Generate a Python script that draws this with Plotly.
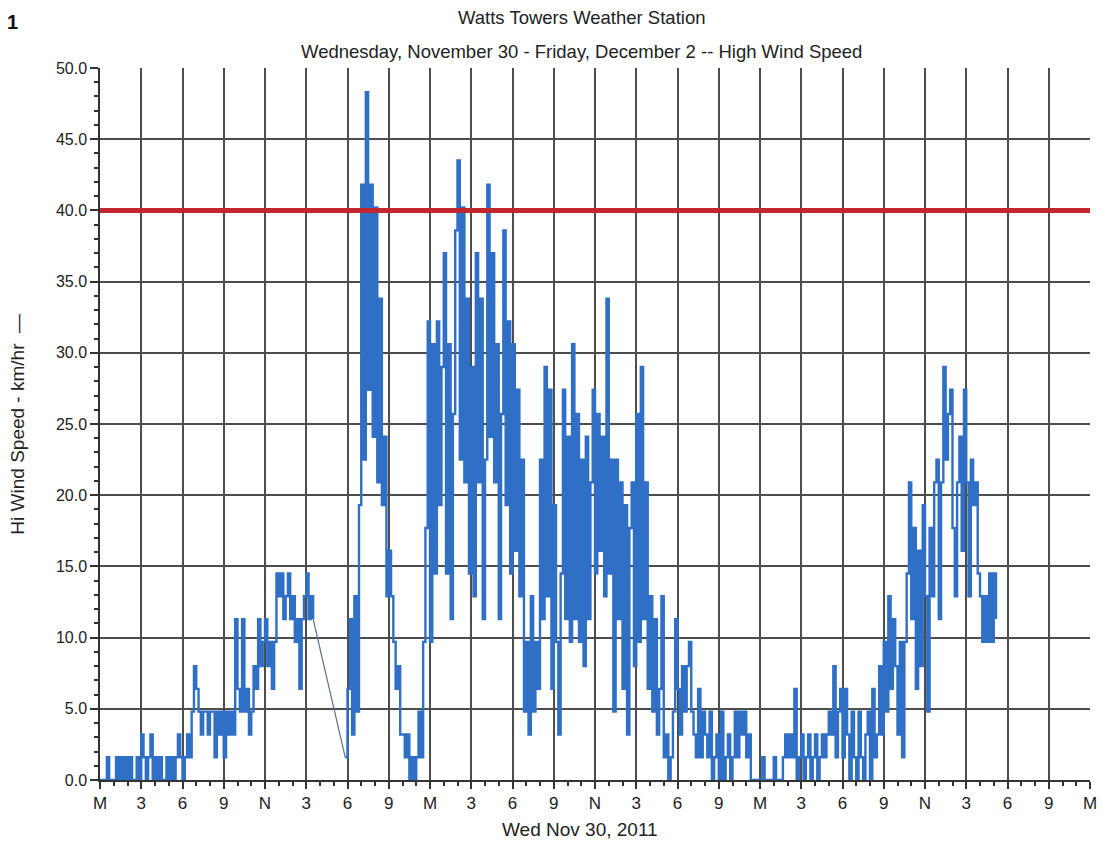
import plotly.graph_objects as go

# Hi wind speed (km/hr), 10-minute samples. None = no data (gap in record)
# Wednesday Nov 30, hours 0-23 (6 samples per hour)
wed_kmh = [
    0, 0, 0, 1.6, 0, 0,
    0, 1.6, 0, 1.6, 0, 1.6,
    0, 1.6, 0, 0, 1.6, 0,
    3.2, 1.6, 0, 1.6, 3.2, 0,
    1.6, 0, 1.6, 0, 0, 1.6,
    0, 1.6, 0, 1.6, 3.2, 1.6,
    0, 1.6, 3.2, 1.6, 4.8, 8.0,
    6.4, 4.8, 3.2, 4.8, 4.8, 3.2,
    4.8, 4.8, 1.6, 4.8, 3.2, 4.8,
    1.6, 4.8, 3.2, 4.8, 3.2, 11.3,
    6.4, 4.8, 11.3, 4.8, 6.4, 3.2,
    4.8, 8.0, 6.4, 11.3, 8.0, 9.7,
    11.3, 8.0, 9.7, 6.4, 9.7, 14.5,
    12.9, 14.5, 11.3, 12.9, 14.5, 11.3,
    12.9, 9.7, 11.3, 6.4, 11.3, 12.9,
    14.5, 11.3, 12.9, 11.3, None, None,
    None, None, None, None, None, None,
    None, None, None, None, None, 1.6,
    6.4, 11.3, 3.2, 12.9, 4.8, 19.3,
    41.8, 22.5, 48.3, 27.4, 41.8, 24.1,
    40.2, 20.9, 33.8, 19.3, 24.1, 12.9,
    16.1, 12.9, 9.7, 6.4, 8.0, 3.2,
    3.2, 1.6, 3.2, 0, 1.6, 0,
    1.6, 4.8, 1.6, 9.7, 17.7, 32.2,
]

# Thursday Dec 1, hours 0-23
thu_kmh = [
    9.7, 30.6, 14.5, 32.2, 19.3, 29.0,
    37.0, 14.5, 30.6, 11.3, 25.7, 38.6,
    43.5, 22.5, 40.2, 20.9, 33.8, 14.5,
    29.0, 12.9, 37.0, 20.9, 33.8, 11.3,
    22.5, 41.8, 24.1, 37.0, 20.9, 30.6,
    11.3, 25.7, 38.6, 19.3, 32.2, 14.5,
    30.6, 16.1, 27.4, 12.9, 22.5, 4.8,
    9.7, 3.2, 12.9, 4.8, 9.7, 6.4,
    22.5, 11.3, 29.0, 12.9, 27.4, 6.4,
    19.3, 9.7, 3.2, 14.5, 27.4, 11.3,
    24.1, 9.7, 30.6, 11.3, 25.7, 9.7,
    22.5, 8.0, 24.1, 11.3, 20.9, 27.4,
    14.5, 25.7, 16.1, 24.1, 12.9, 33.8,
    14.5, 22.5, 4.8, 22.5, 11.3, 20.9,
    6.4, 19.3, 3.2, 17.7, 20.9, 8.0,
    25.7, 9.7, 29.0, 11.3, 20.9, 6.4,
    12.9, 4.8, 11.3, 3.2, 6.4, 12.9,
    1.6, 3.2, 0, 1.6, 4.8, 11.3,
    6.4, 3.2, 8.0, 4.8, 8.0, 9.7,
    4.8, 3.2, 1.6, 6.4, 1.6, 4.8,
    3.2, 1.6, 4.8, 0, 1.6, 3.2,
    0, 4.8, 0, 1.6, 3.2, 0,
    1.6, 4.8, 1.6, 4.8, 3.2, 4.8,
    1.6, 3.2, 0, 0, 0, 0,
]

# Friday Dec 2, hours 0-17 (record ends shortly after 5 PM)
fri_kmh = [
    0, 1.6, 0, 0, 0, 0,
    1.6, 0, 0, 0, 1.6, 3.2,
    1.6, 3.2, 1.6, 6.4, 0, 1.6,
    3.2, 0, 1.6, 3.2, 0, 1.6,
    3.2, 0, 1.6, 3.2, 1.6, 3.2,
    4.8, 3.2, 8.0, 1.6, 4.8, 6.4,
    1.6, 6.4, 3.2, 0, 4.8, 1.6,
    0, 4.8, 1.6, 0, 3.2, 4.8,
    0, 6.4, 1.6, 3.2, 8.0, 3.2,
    9.7, 4.8, 12.9, 6.4, 11.3, 8.0,
    3.2, 9.7, 1.6, 9.7, 14.5, 20.9,
    11.3, 17.7, 6.4, 16.1, 8.0, 19.3,
    12.9, 4.8, 17.7, 12.9, 20.9, 22.5,
    11.3, 20.9, 29.0, 22.5, 25.7, 27.4,
    17.7, 12.9, 20.9, 24.1, 16.1, 27.4,
    20.9, 12.9, 22.5, 19.3, 20.9, 14.5,
    12.9, 9.7, 12.9, 9.7, 14.5, 9.7,
    14.5, 11.3,
]

day_starts_h = [0, 24, 48]          # hours since Wed midnight
samples_per_hour = 6
high_wind_threshold = 40.0

tick_hours = list(range(0, 73, 3))
tick_text = ["M", "3", "6", "9", "N", "3", "6", "9"] * 3 + ["M"]
y_ticks = [0, 5, 10, 15, 20, 25, 30, 35, 40, 45, 50]

hours, speeds = [], []
for start, day in zip(day_starts_h, [wed_kmh, thu_kmh, fri_kmh]):
    for i, v in enumerate(day):
        hours.append(start + i / samples_per_hour)
        speeds.append(v)

# the station software joins a missing stretch with a straight line
bridge_x, bridge_y = [], []
i = 0
while i < len(speeds):
    if speeds[i] is None:
        j = i
        while j < len(speeds) and speeds[j] is None:
            j += 1
        if i > 0 and j < len(speeds):
            bridge_x += [hours[i - 1], hours[j], None]
            bridge_y += [speeds[i - 1], speeds[j], None]
        i = j
    else:
        i += 1

FONT = "Liberation Sans, Arial, sans-serif"
GRID = "#4d4d4d"
BLUE = "#2f6fc6"

fig = go.Figure()
fig.add_trace(go.Scatter(
    x=hours, y=speeds, mode="lines", connectgaps=False,
    line=dict(color=BLUE, width=2.4, shape="hv"), name="Hi Wind Speed",
    showlegend=False,
))
fig.add_trace(go.Scatter(
    x=bridge_x, y=bridge_y, mode="lines",
    line=dict(color="#5a6f8f", width=1.2), showlegend=False, hoverinfo="skip",
))
fig.add_hline(y=high_wind_threshold, line_color="#c0262d", line_width=5, layer="above")

fig.update_layout(
    width=1099, height=838,
    margin=dict(l=92, r=10, t=60, b=66),
    paper_bgcolor="white", plot_bgcolor="white",
    font=dict(family=FONT, size=16, color="#222"),
    showlegend=False,
    annotations=[
        dict(text="<b>1</b>", x=-0.0883, y=1.0646, xref="paper", yref="paper", showarrow=False,
             xanchor="center", yanchor="middle", font=dict(size=20, color="#111")),
        dict(text="Watts Towers Weather Station", x=0.4865, y=1.0716, xref="paper", yref="paper",
             xanchor="center", yanchor="middle", showarrow=False, font=dict(size=18.5)),
        dict(text="Wednesday, November 30 - Friday, December 2 -- High Wind Speed",
             x=0.4865, y=1.0225, xref="paper", yref="paper",
             xanchor="center", yanchor="middle", showarrow=False, font=dict(size=18.5)),
        dict(text="Hi Wind Speed - km/hr  \u2014", x=-0.0842, y=0.5, xref="paper", yref="paper",
             xanchor="center", yanchor="middle", textangle=-90, showarrow=False, font=dict(size=19)),
        dict(text="Wed Nov 30, 2011", x=0.4845, y=-0.0702, xref="paper", yref="paper",
             xanchor="center", yanchor="middle", showarrow=False, font=dict(size=19)),
    ],
)

fig.update_xaxes(
    range=[0, 72], tickmode="array", tickvals=tick_hours, ticktext=tick_text,
    showgrid=True, gridcolor=GRID, gridwidth=1.5,
    showline=True, linecolor="#333", linewidth=1.5,
    ticks="outside", ticklen=7, tickcolor="#333", tickwidth=1.5,
    tickfont=dict(size=17, color="#222"), zeroline=False,
    minor=dict(tickmode="linear", tick0=0, dtick=1, ticks="outside", ticklen=4,
               tickcolor="#333", showgrid=False),
)
fig.update_yaxes(
    range=[0, 50], tickmode="array", tickvals=y_ticks, tickformat=".1f",
    showgrid=True, gridcolor=GRID, gridwidth=1.5,
    showline=True, linecolor="#333", linewidth=1.5,
    ticks="outside", ticklen=8, tickcolor="#333", tickwidth=1.5,
    tickfont=dict(size=16, color="#222"), zeroline=False,
    minor=dict(tickmode="linear", tick0=0, dtick=1, ticks="outside", ticklen=4,
               tickcolor="#333", showgrid=False),
)

fig.write_html("out.html")
